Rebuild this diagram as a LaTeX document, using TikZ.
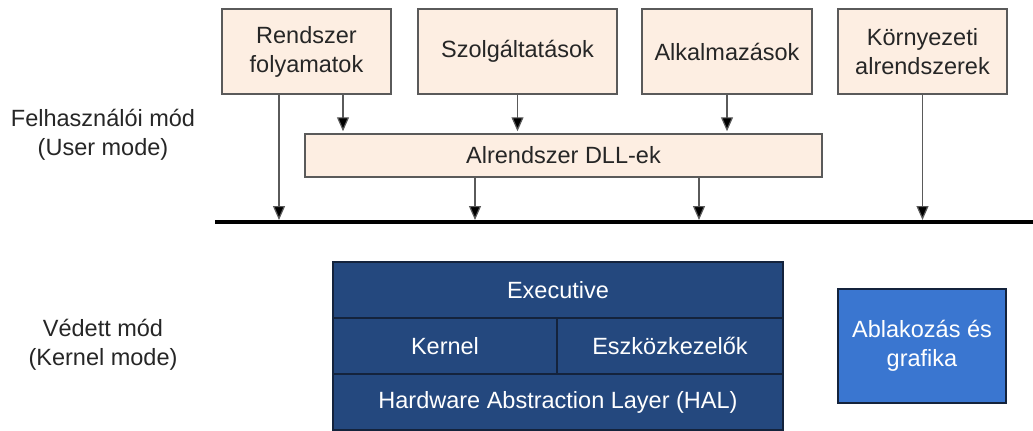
\documentclass[tikz,border=0pt]{standalone}
\usepackage{fontspec}
\setmainfont{Liberation Sans}
\usetikzlibrary{arrows.meta}
\definecolor{peach}{HTML}{FDEEE2}
\definecolor{boxline}{HTML}{5A5A5A}
\definecolor{txt}{HTML}{262626}
\definecolor{kblue}{HTML}{24487E}
\definecolor{kline}{HTML}{14233C}
\definecolor{wblue}{HTML}{3A76D0}
\begin{document}
\begin{tikzpicture}[x=0.5pt,y=-0.5pt,font=\fontsize{11.75}{14.5}\selectfont,
    userbox/.style={draw=boxline,fill=peach,line width=0.75pt,text=txt,align=center,inner sep=0pt,minimum height=42.5pt},
    kernbox/.style={draw=kline,fill=kblue,line width=0.6pt,text=white,align=center,inner sep=0pt,minimum height=28pt},
    arr/.style={-{Triangle[length=7pt,width=6pt,fill=black]},line width=0.6pt,color=boxline,shorten >=1pt}]
            \useasboundingbox (0,0) rectangle (1033,430);
            \node[align=center,text=txt] (user) at (103,135) {Felhasználói mód\\(User mode)};
            \node[align=center,text=txt] (kmode) at (103,345) {Védett mód\\(Kernel mode)};
            \node[userbox,minimum width=84.5pt] (rend) at (306.5,51.5) {Rendszer\\folyamatok};
            \node[userbox,minimum width=99.5pt] (szolg) at (517.5,51.5) {Szolgáltatások};
            \node[userbox,minimum width=85pt] (alk) at (727,51.5) {Alkalmazások};
            \node[userbox,minimum width=84.5pt] (korny) at (922.5,51.5) {Környezeti\\alrendszerek};
            \node[userbox,minimum width=258.5pt,minimum height=21.5pt] (dll) at (563.5,155.5) {Alrendszer DLL-ek};
            \coordinate (busL) at (215,222);
            \coordinate (busR) at (1033,222);
            \draw[line width=2pt] (busL) -- (busR);
            \draw[arr] ([xshift=-13.75pt]rend.south) coordinate (r) -- (r |- busL);
            \draw[arr] ([xshift=18.25pt]rend.south) coordinate (r) -- (r |- dll.north);
            \draw[arr] (szolg.south) -- (szolg.south |- dll.north);
            \draw[arr] (alk.south) -- (alk.south |- dll.north);
            \foreach \s in {-44.25,67.75}
                \draw[arr] ([xshift=\s pt]dll.south) coordinate (d) -- (d |- busL);
            \draw[arr] (korny.south) -- (korny.south |- busL);
            \node[kernbox,minimum width=225pt] (exec) at (558,290) {Executive};
            \node[kernbox,minimum width=112pt] (kern) at (445,346) {Kernel};
            \node[kernbox,minimum width=113pt] (eszk) at (670,346) {Eszközkezelők};
            \node[kernbox,minimum width=225pt] (hal) at (558,402) {Hardware Abstraction Layer (HAL)};
            \node[kernbox,fill=wblue,minimum width=84pt,minimum height=57pt] (ablak) at (922,346) {Ablakozás és\\grafika};
        \end{tikzpicture}
\end{document}
